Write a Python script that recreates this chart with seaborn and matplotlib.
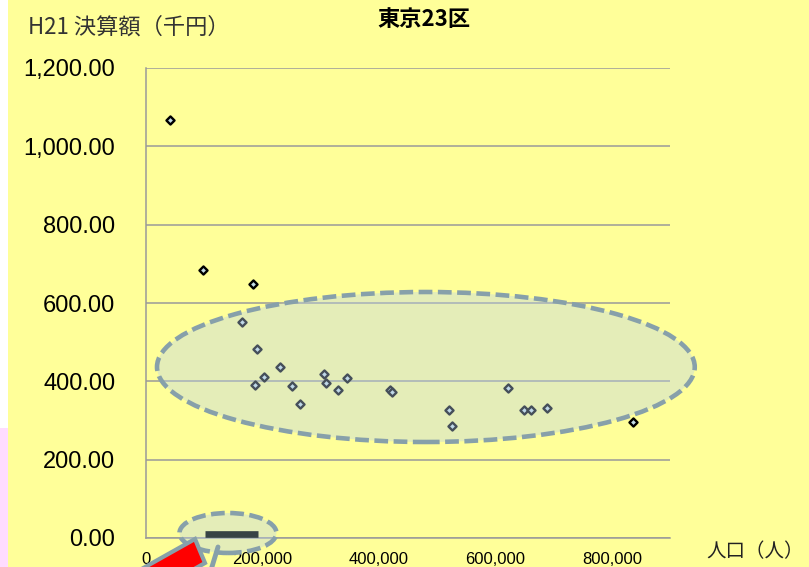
import matplotlib
matplotlib.use("Agg")
import matplotlib.pyplot as plt
import matplotlib.patches as mpatches
import matplotlib.transforms as mtransforms
from matplotlib.lines import Line2D
from matplotlib.ticker import FuncFormatter
import pandas as pd
import seaborn as sns

# 東京23区: 人口 と H21 決算額（千円）
population = [41000, 98000, 184000, 165000, 191000, 231000, 202000, 188000,
              250000, 264000, 305000, 310000, 330000, 345000, 419000, 422000,
              521000, 526000, 622000, 650000, 662000, 688000, 836000]
budget = [1067, 684, 648, 551, 482, 437, 411, 391,
          387, 341, 420, 396, 378, 408, 377, 373,
          328, 285, 384, 328, 328, 331, 295]

x_ticks = [0, 200000, 400000, 600000, 800000]
y_ticks = [0, 200, 400, 600, 800, 1000, 1200]

# highlighted groups (centre x, centre y, width, height) in data units
main_group = (480700, 436.6, 923600, 383)
zero_group = (140800, 12.8, 166500, 102)
zero_bar_x = [101000, 192000]
zero_bar_y = [10, 10]

title = "東京23区"
y_title = "H21 決算額（千円）"
x_title = "人口（人）"

sns.set_style("white")
plt.rcParams["font.family"] = ["Liberation Sans", "Noto Sans CJK JP", "DejaVu Sans"]
cjk = ["Noto Sans CJK JP", "DejaVu Sans"]

W, H = 809, 567
bg = "#ffff99"
grid_c = "#9a9a9a"
edge_c = "#87a0aa"
fill_c = (0.72, 0.82, 0.93, 0.38)

fig = plt.figure(figsize=(W / 100, H / 100), dpi=100, facecolor=bg)
ax = fig.add_axes([146 / W, 29 / H, 524 / W, 470 / H])
ax.set_facecolor(bg)

df = pd.DataFrame({"population": population, "budget": budget})
sns.scatterplot(data=df, x="population", y="budget", marker="D", s=17,
                color="#c4dde6", edgecolor="black", linewidth=1.7,
                ax=ax, zorder=3, legend=False)

ax.set_xlim(0, 900000)
ax.set_ylim(0, 1200)
ax.set_xticks(x_ticks)
ax.set_yticks(y_ticks)
ax.xaxis.set_major_formatter(FuncFormatter(lambda v, p: f"{v:,.0f}"))
ax.yaxis.set_major_formatter(FuncFormatter(lambda v, p: f"{v:,.2f}"))
ax.set_xlabel("")
ax.set_ylabel("")

for s in ["top", "right"]:
    ax.spines[s].set_visible(False)
for s in ["left", "bottom"]:
    ax.spines[s].set_color(grid_c)
    ax.spines[s].set_linewidth(1.1)
    ax.spines[s].set_zorder(2)

ax.yaxis.grid(True, color=grid_c, linewidth=1.1, zorder=1)
ax.xaxis.grid(False)
ax.set_axisbelow(True)
ax.tick_params(axis="y", direction="out", length=6, width=1.1, color=grid_c,
               labelsize=17, pad=16, labelcolor="black")
ax.tick_params(axis="x", direction="out", length=3, width=1.1, color=grid_c,
               labelsize=12, pad=7, labelcolor="black")

# dashed highlight ellipses
for cx, cy, w, h in (main_group, zero_group):
    ax.add_patch(mpatches.Ellipse((cx, cy), w, h, facecolor=fill_c,
                                  edgecolor=edge_c, linewidth=3.3,
                                  linestyle=(0, (3, 1.2)), clip_on=False,
                                  zorder=5))

# dark bar at the bottom left
ax.plot(zero_bar_x, zero_bar_y, color="#374345", linewidth=4.8,
        solid_capstyle="butt", zorder=6, clip_on=False)

# pixel-space transform (origin top-left)
px = mtransforms.Affine2D().scale(1 / W, -1 / H).translate(0, 1) + fig.transFigure

# left edge strip
fig.patches.append(mpatches.Rectangle((0, 0), 8, 428, transform=px,
                                      facecolor="white", edgecolor="none", zorder=1))
fig.patches.append(mpatches.Rectangle((0, 428), 8, 139, transform=px,
                                      facecolor="#ffdcff", edgecolor="none", zorder=1))

# red arrow body pointing at the bar
fig.patches.append(mpatches.Polygon([(195, 539), (205, 563), (116, 613), (106, 589)],
                                    closed=True, transform=px, facecolor="#ff0000",
                                    edgecolor=edge_c, linewidth=3, zorder=6))
fig.lines.append(Line2D([211, 218], [570, 547], transform=px, color=edge_c,
                        linewidth=3.5, zorder=6))

fig.text(424 / W, 1 - 19 / H, title, ha="center", va="center",
         fontsize=16, fontweight="bold", family=cjk, color="black")
fig.text(28 / W, 1 - 27 / H, y_title, ha="left", va="center",
         fontsize=16, family=cjk, color="#333333")
fig.text(706 / W, 1 - 552 / H, x_title, ha="left", va="center",
         fontsize=14, family=cjk, color="#222222")

fig.savefig("out.png", dpi=100, facecolor=bg)
